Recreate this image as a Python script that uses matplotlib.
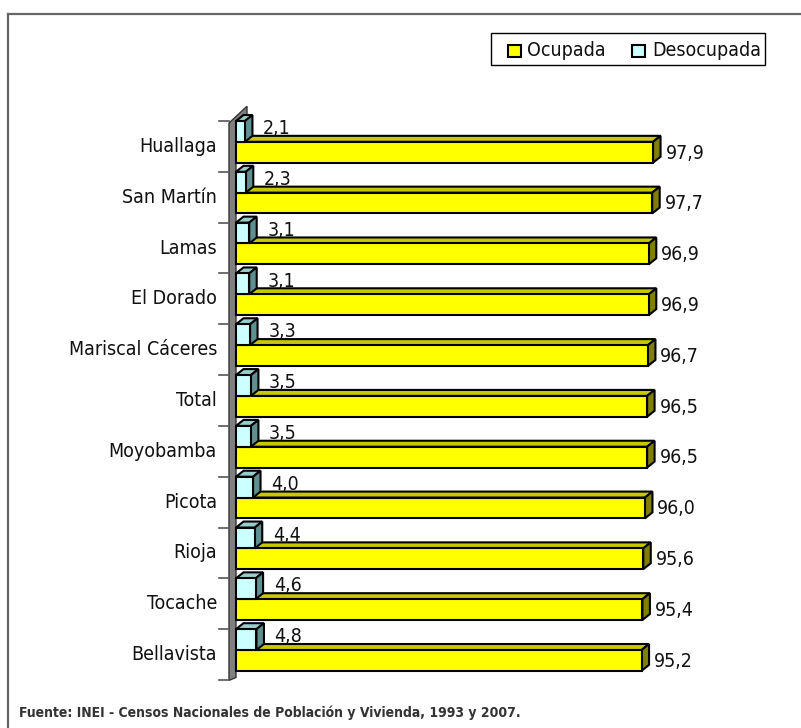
"""Ocupada / Desocupada por provincia - horizontal 3D-style bar chart."""

import matplotlib
matplotlib.use("Agg")
import matplotlib.pyplot as plt
import matplotlib.font_manager as fm
from matplotlib.patches import Polygon, Rectangle
from matplotlib.lines import Line2D

# ---- data -------------------------------------------------------------
provincias = ["Huallaga", "San Martín", "Lamas", "El Dorado", "Mariscal Cáceres",
              "Total", "Moyobamba", "Picota", "Rioja", "Tocache", "Bellavista"]
ocupada = [97.9, 97.7, 96.9, 96.9, 96.7, 96.5, 96.5, 96.0, 95.6, 95.4, 95.2]
desocupada = [2.1, 2.3, 3.1, 3.1, 3.3, 3.5, 3.5, 4.0, 4.4, 4.6, 4.8]
series_names = ["Ocupada", "Desocupada"]
fuente = "Fuente: INEI - Censos Nacionales de Población y Vivienda, 1993 y 2007."

# ---- font -------------------------------------------------------------
_fonts = fm.fontManager.ttflist
_names = {f.name for f in _fonts}
if "Liberation Sans Narrow" in _names:
    FONT_KW = dict(family="Liberation Sans Narrow")
    FS, FS_NOTE = 15, 12
elif any(f.name == "DejaVu Sans" and f.stretch == "condensed" for f in _fonts):
    FONT_KW = dict(family="DejaVu Sans", stretch="condensed")
    FS, FS_NOTE = 14, 10
else:
    FONT_KW = dict(family="Liberation Sans")
    FS, FS_NOTE = 13, 10

W, H = 801, 728
fig = plt.figure(figsize=(W / 100, H / 100), dpi=100)


def fx(px):
    return px / W


def fy(py):
    return 1 - py / H


# axes: x=0 at pixel 236, 4.26 px per unit; bands from y=121 to y=680
PX_UNIT = 4.26
XMIN, XMAX = -7 / PX_UNIT, 110
ax_left, ax_right = 236 + XMIN * PX_UNIT, 236 + XMAX * PX_UNIT
ax = fig.add_axes([fx(ax_left), fy(680), fx(ax_right - ax_left), (680 - 121) / H])
n = len(provincias)
ax.set_xlim(XMIN, XMAX)
ax.set_ylim(n, 0)
ax.axis("off")

DX = 7.5 / PX_UNIT          # depth offset in x (data units)
DY = 6 / ((680 - 121) / n)  # depth offset in y (band units)
BAR_H = 0.41


def box(y0, w, front, top, side):
    kw = dict(edgecolor="black", linewidth=1.5, joinstyle="miter", clip_on=False)
    ax.add_patch(Polygon([(0, y0), (w, y0), (w + DX, y0 - DY), (DX, y0 - DY)],
                         facecolor=top, **kw))
    ax.add_patch(Polygon([(w, y0), (w, y0 + BAR_H), (w + DX, y0 + BAR_H - DY),
                          (w + DX, y0 - DY)], facecolor=side, **kw))
    ax.add_patch(Rectangle((0, y0), w, BAR_H, facecolor=front, **kw))


# wall
wall = [(XMIN, n), (XMIN, 0.04), (XMIN + 18 / PX_UNIT, -0.29), (XMIN + 18 / PX_UNIT, 0.0),
        (0, 0.0), (0, n - 0.05), (XMIN + 1 / PX_UNIT, n)]
ax.add_patch(Polygon(wall, facecolor="#808080", edgecolor="#333333", linewidth=1.0,
                     clip_on=False, zorder=0.5))

# boundary ticks
for k in range(n + 1):
    ax.add_line(Line2D([XMIN - 10 / PX_UNIT, XMIN], [k, k], color="#555555",
                       linewidth=1.2, clip_on=False))

for k in range(n - 1, -1, -1):
    box(k + BAR_H, ocupada[k], "#FFFF00", "#C8C800", "#808000")
    box(k, desocupada[k], "#CCFFFF", "#99CCCC", "#5F8F8F")

    ax.text(ocupada[k] + 2.9, k + 0.63, f"{ocupada[k]:.1f}".replace(".", ","),
            ha="left", va="center", fontsize=FS, color="#111111", **FONT_KW)
    ax.text(desocupada[k] + 7.5, k + 0.15, f"{desocupada[k]:.1f}".replace(".", ","),
            ha="center", va="center", fontsize=FS, color="#111111", **FONT_KW)
    ax.text(XMIN - 12 / PX_UNIT, k + 0.5, provincias[k], ha="right", va="center",
            fontsize=FS, color="#111111", **FONT_KW)

# legend
fig.add_artist(Rectangle((fx(491), fy(65)), fx(765 - 491), (65 - 33) / H,
                         transform=fig.transFigure, facecolor="white",
                         edgecolor="black", linewidth=1.0))
for sx, tx, col, name in [(508, 527, "#FFFF00", series_names[0]),
                          (632, 652, "#CCFFFF", series_names[1])]:
    fig.add_artist(Rectangle((fx(sx), fy(57)), fx(13), 12 / H,
                             transform=fig.transFigure, facecolor=col,
                             edgecolor="black", linewidth=1.5))
    fig.text(fx(tx), fy(50), name, ha="left", va="center", fontsize=FS,
             color="#111111", **FONT_KW)

# source note
fig.text(fx(19), fy(717), fuente, ha="left", va="baseline", fontsize=FS_NOTE,
         fontweight="bold", color="#333333", **FONT_KW)

# outer frame (top and left edges)
fig.add_artist(Line2D([fx(8), 1], [fy(14), fy(14)], transform=fig.transFigure,
                      color="#666666", linewidth=1.6))
fig.add_artist(Line2D([fx(8), fx(8)], [fy(14), 0], transform=fig.transFigure,
                      color="#666666", linewidth=1.6))

fig.savefig("out.png", dpi=100)
plt.close(fig)
